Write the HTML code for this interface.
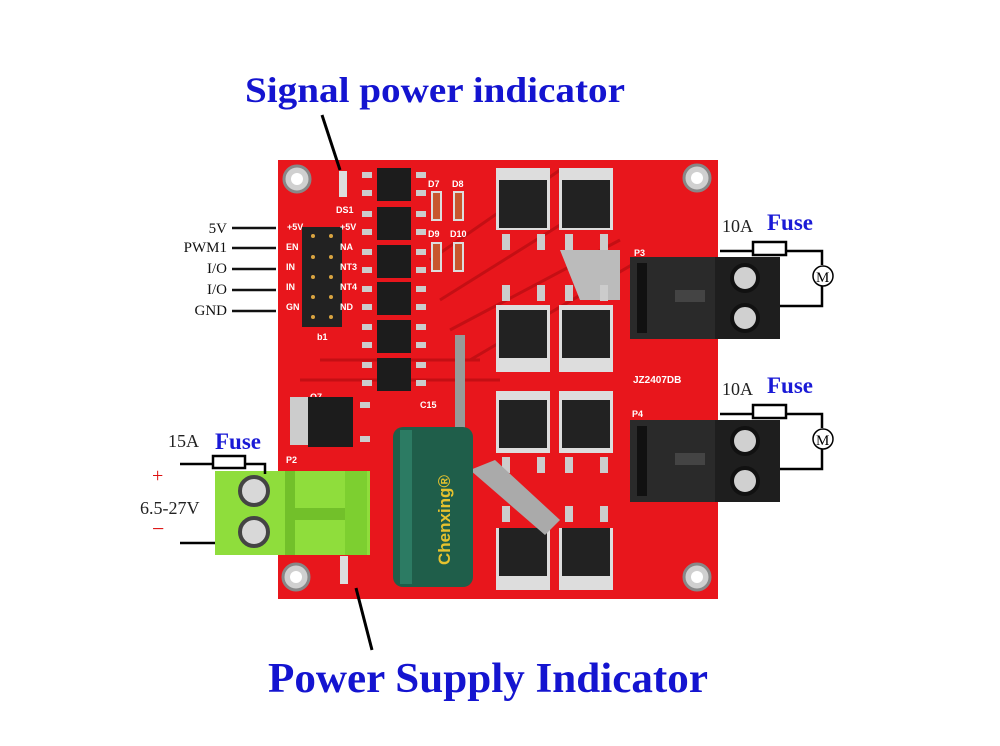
<!DOCTYPE html>
<html><head><style>
body{margin:0;background:#fff;width:1000px;height:741px;overflow:hidden}
</style></head><body>
<svg width="1000" height="741" viewBox="0 0 1000 741" xmlns="http://www.w3.org/2000/svg" font-family="Liberation Serif,serif">
<rect width="1000" height="741" fill="#fff"/>
<!-- board -->
<rect x="278" y="160" width="440" height="439" fill="#e8161c"/>
<g fill="#d0d0d0" stroke="#888" stroke-width="3">
<circle cx="297" cy="179" r="13"/><circle cx="697" cy="178" r="13"/>
<circle cx="296" cy="577" r="13"/><circle cx="697" cy="577" r="13"/>
</g>
<g fill="#fff"><circle cx="297" cy="179" r="6"/><circle cx="697" cy="178" r="6"/><circle cx="296" cy="577" r="6"/><circle cx="697" cy="577" r="6"/></g>
<!-- traces -->
<g stroke="#c40f14" stroke-width="3" fill="none">
<path d="M430 260 L560 170 M440 300 L600 200 M450 330 L620 240 M470 360 L640 260"/>
<path d="M320 360 L480 360 M300 380 L500 380"/>
</g>
<polygon points="560,250 620,250 620,300 580,300" fill="#bbb"/>
<!-- header pins -->
<rect x="302" y="227" width="40" height="100" fill="#222"/>
<g fill="#d9a441"><circle cx="313" cy="236" r="2"/><circle cx="331" cy="236" r="2"/><circle cx="313" cy="257" r="2"/><circle cx="331" cy="257" r="2"/><circle cx="313" cy="277" r="2"/><circle cx="331" cy="277" r="2"/><circle cx="313" cy="297" r="2"/><circle cx="331" cy="297" r="2"/><circle cx="313" cy="317" r="2"/><circle cx="331" cy="317" r="2"/></g>
<g font-family="Liberation Sans,sans-serif" font-size="9" font-weight="bold" fill="#fff">
<text x="287" y="230">+5V</text><text x="340" y="230">+5V</text>
<text x="286" y="250">EN</text><text x="286" y="270">IN</text><text x="286" y="290">IN</text><text x="286" y="310">GN</text>
<text x="340" y="250">NA</text><text x="340" y="270">NT3</text><text x="340" y="290">NT4</text><text x="340" y="310">ND</text>
<text x="317" y="340">b1</text><text x="336" y="213">DS1</text><text x="286" y="463">P2</text><text x="310" y="400">Q7</text>
<text x="420" y="408">C15</text><text x="428" y="187">D7</text><text x="452" y="187">D8</text>
<text x="428" y="237">D9</text><text x="450" y="237">D10</text>
<text x="633" y="383" font-size="10">JZ2407DB</text>
<text x="634" y="256">P3</text><text x="632" y="417">P4</text>
</g>
<!-- small ICs -->
<g fill="#1c1c1c">
<rect x="377" y="168" width="34" height="33"/><rect x="377" y="207" width="34" height="33"/>
<rect x="377" y="245" width="34" height="33"/><rect x="377" y="282" width="34" height="33"/>
<rect x="377" y="320" width="34" height="33"/><rect x="377" y="358" width="34" height="33"/>
</g>
<g fill="#ccc">
<rect x="362" y="172" width="10" height="6"/><rect x="362" y="190" width="10" height="6"/><rect x="416" y="172" width="10" height="6"/><rect x="416" y="190" width="10" height="6"/>
<rect x="362" y="211" width="10" height="6"/><rect x="362" y="229" width="10" height="6"/><rect x="416" y="211" width="10" height="6"/><rect x="416" y="229" width="10" height="6"/>
<rect x="362" y="249" width="10" height="6"/><rect x="362" y="267" width="10" height="6"/><rect x="416" y="249" width="10" height="6"/><rect x="416" y="267" width="10" height="6"/>
<rect x="362" y="286" width="10" height="6"/><rect x="362" y="304" width="10" height="6"/><rect x="416" y="286" width="10" height="6"/><rect x="416" y="304" width="10" height="6"/>
<rect x="362" y="324" width="10" height="6"/><rect x="362" y="342" width="10" height="6"/><rect x="416" y="324" width="10" height="6"/><rect x="416" y="342" width="10" height="6"/>
<rect x="362" y="362" width="10" height="6"/><rect x="362" y="380" width="10" height="6"/><rect x="416" y="362" width="10" height="6"/><rect x="416" y="380" width="10" height="6"/>
</g>
<!-- diodes -->
<g fill="#c8562e" stroke="#ddd" stroke-width="2">
<rect x="432" y="192" width="9" height="28"/><rect x="454" y="192" width="9" height="28"/>
<rect x="432" y="243" width="9" height="28"/><rect x="454" y="243" width="9" height="28"/>
</g>
<!-- LEDs -->
<rect x="339" y="171" width="8" height="26" fill="#ddd"/>
<rect x="340" y="556" width="8" height="28" fill="#ddd"/>
<!-- mosfets -->
<g>
<g fill="#ddd"><rect x="496" y="168" width="54" height="62"/><rect x="559" y="168" width="54" height="62"/>
<rect x="496" y="305" width="54" height="67"/><rect x="559" y="305" width="54" height="67"/>
<rect x="496" y="391" width="54" height="62"/><rect x="559" y="391" width="54" height="62"/>
<rect x="496" y="528" width="54" height="62"/><rect x="559" y="528" width="54" height="62"/></g>
<g fill="#222"><rect x="499" y="180" width="48" height="48"/><rect x="562" y="180" width="48" height="48"/>
<rect x="499" y="310" width="48" height="48"/><rect x="562" y="310" width="48" height="48"/>
<rect x="499" y="400" width="48" height="48"/><rect x="562" y="400" width="48" height="48"/>
<rect x="499" y="528" width="48" height="48"/><rect x="562" y="528" width="48" height="48"/></g>
<g fill="#ccc"><rect x="502" y="234" width="8" height="16"/><rect x="537" y="234" width="8" height="16"/><rect x="565" y="234" width="8" height="16"/><rect x="600" y="234" width="8" height="16"/>
<rect x="502" y="285" width="8" height="16"/><rect x="537" y="285" width="8" height="16"/><rect x="565" y="285" width="8" height="16"/><rect x="600" y="285" width="8" height="16"/>
<rect x="502" y="457" width="8" height="16"/><rect x="537" y="457" width="8" height="16"/><rect x="565" y="457" width="8" height="16"/><rect x="600" y="457" width="8" height="16"/>
<rect x="502" y="506" width="8" height="16"/><rect x="537" y="506" width="8" height="16"/><rect x="565" y="506" width="8" height="16"/><rect x="600" y="506" width="8" height="16"/></g>
</g>
<!-- silver strip -->
<path d="M455 335 L465 335 L465 440 L455 440 Z" fill="#999"/>
<path d="M470 470 L495 460 L560 520 L545 535 Z" fill="#aaa"/>
<!-- Q7 regulator -->
<rect x="290" y="397" width="20" height="48" fill="#ccc"/>
<rect x="308" y="397" width="45" height="50" fill="#1c1c1c"/>
<rect x="360" y="402" width="10" height="6" fill="#ccc"/><rect x="360" y="436" width="10" height="6" fill="#ccc"/>
<!-- capacitor -->
<rect x="393" y="427" width="80" height="160" rx="10" fill="#1f5e4a"/>
<rect x="400" y="430" width="12" height="154" fill="#2c7b63"/>
<text x="0" y="0" transform="translate(450,565) rotate(-90)" font-family="Liberation Sans,sans-serif" font-size="17" font-weight="bold" fill="#e6c22e">Chenxing®</text>
<!-- green terminal -->
<rect x="215" y="471" width="155" height="84" fill="#8fdd3c"/>
<rect x="285" y="471" width="10" height="84" fill="#72c02a"/>
<rect x="345" y="471" width="22" height="84" fill="#7dcf30"/>
<rect x="290" y="508" width="55" height="12" fill="#72c02a"/>
<circle cx="254" cy="491" r="14" fill="#d8d8d8" stroke="#444" stroke-width="4"/>
<circle cx="254" cy="532" r="14" fill="#d8d8d8" stroke="#444" stroke-width="4"/>
<!-- right terminals -->
<g id="t">
<rect x="630" y="257" width="150" height="82" fill="#2a2a2a"/>
<rect x="715" y="257" width="65" height="82" fill="#1e1e1e"/>
<rect x="637" y="263" width="10" height="70" fill="#111"/>
<rect x="675" y="290" width="30" height="12" fill="#444"/>
<circle cx="745" cy="278" r="13" fill="#d0d0d0" stroke="#111" stroke-width="4"/>
<circle cx="745" cy="318" r="13" fill="#d0d0d0" stroke="#111" stroke-width="4"/>
<path d="M720 251 L753 251 M786 251 L822 251 L822 265 M822 286 L822 306 L780 306" stroke="#000" stroke-width="2.5" fill="none"/>
<rect x="753" y="242" width="33" height="13" fill="none" stroke="#000" stroke-width="2.5"/>
<circle cx="823" cy="276" r="10" fill="#fff" stroke="#000" stroke-width="1.5"/>
<text x="816" y="282" font-size="15">M</text>
<text x="722" y="232" font-size="18" fill="#222">10A</text>
<text x="767" y="230" font-size="23" font-weight="bold" fill="#1a1ad6">Fuse</text>
</g>
<use href="#t" transform="translate(0,163)"/>
<!-- left labels -->
<g font-size="15" fill="#111" text-anchor="end">
<text x="227" y="233">5V</text><text x="227" y="252">PWM1</text><text x="227" y="273">I/O</text><text x="227" y="294">I/O</text><text x="227" y="315">GND</text>
</g>
<g stroke="#111" stroke-width="2.5"><line x1="232" y1="228" x2="276" y2="228"/><line x1="232" y1="248" x2="276" y2="248"/><line x1="232" y1="269" x2="276" y2="269"/><line x1="232" y1="290" x2="276" y2="290"/><line x1="232" y1="311" x2="276" y2="311"/></g>
<!-- power input -->
<text x="168" y="447" font-size="18" fill="#222">15A</text>
<text x="215" y="449" font-size="23" font-weight="bold" fill="#1a1ad6">Fuse</text>
<path d="M180 464 L213 464 M245 464 L265 464 L265 474 M180 543 L215 543" stroke="#000" stroke-width="2.5" fill="none"/>
<rect x="213" y="456" width="32" height="12" fill="none" stroke="#000" stroke-width="2.5"/>
<text x="152" y="482" font-size="20" fill="#d11">+</text>
<text x="152" y="536" font-size="22" fill="#d11">−</text>
<text x="140" y="514" font-size="18" fill="#222">6.5-27V</text>
<!-- titles -->
<text x="435" y="102" text-anchor="middle" font-size="36" font-weight="bold" fill="#1414d0" textLength="380" lengthAdjust="spacingAndGlyphs">Signal power indicator</text>
<line x1="322" y1="115" x2="340" y2="170" stroke="#000" stroke-width="3"/>
<line x1="356" y1="588" x2="372" y2="650" stroke="#000" stroke-width="3"/>
<text x="488" y="692" text-anchor="middle" font-size="42" font-weight="bold" fill="#1414d0" textLength="440" lengthAdjust="spacingAndGlyphs">Power Supply Indicator</text>
</svg>
</body></html>
